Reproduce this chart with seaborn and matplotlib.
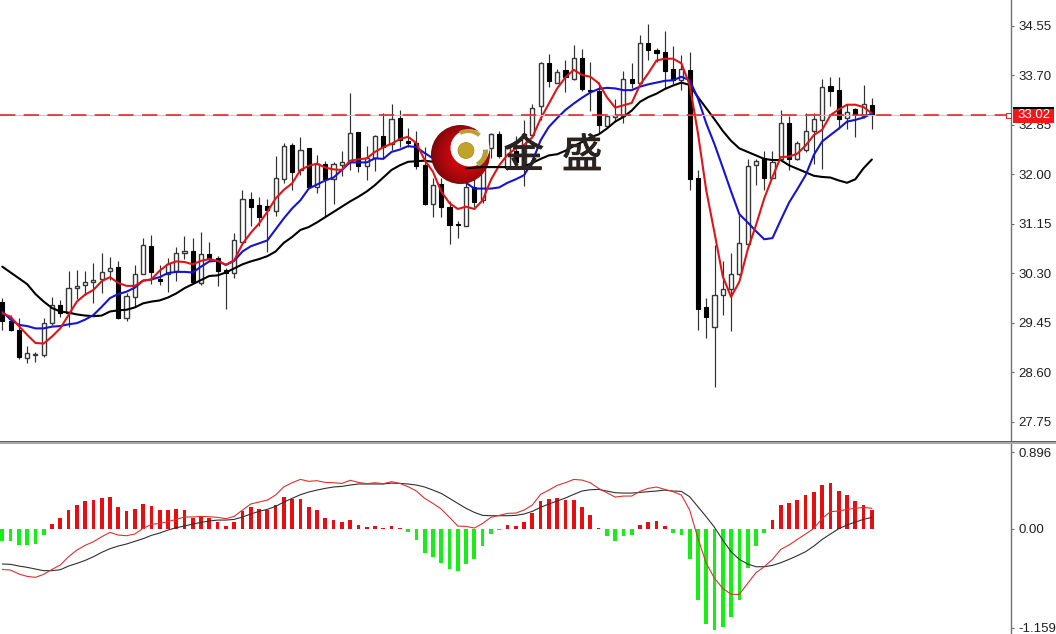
import numpy as np
import pandas as pd
import matplotlib
matplotlib.use('Agg')
import matplotlib.pyplot as plt
import matplotlib.patheffects as pe
from matplotlib.patches import Circle, Rectangle, Ellipse, Wedge
from matplotlib.transforms import Affine2D
import seaborn as sns

# candles
opens = [29.81,29.48,29.32,28.85,28.89,28.89,29.44,29.76,29.61,30.04,30.09,30.14,30.19,30.33,30.40,29.53,29.89,30.29,30.77,30.19,
         30.29,30.34,30.64,30.68,30.13,30.62,30.55,30.36,30.30,30.84,31.58,31.46,31.45,31.37,31.92,32.49,32.07,32.44,31.78,32.18,
         31.91,32.16,32.21,32.72,32.13,32.28,32.66,32.52,32.96,32.57,32.53,32.15,31.48,31.83,31.43,31.14,31.11,31.78,31.55,32.45,
         32.68,32.10,32.40,32.18,32.67,33.16,33.91,33.57,33.79,33.64,33.99,33.45,33.43,32.83,32.98,32.99,33.63,33.56,34.25,34.13,
         34.09,33.80,33.62,33.79,31.94,29.71,29.38,29.92,30.02,30.29,30.80,32.15,32.28,31.94,32.25,32.88,32.25,32.41,32.74,32.92,
         33.52,33.45,32.96,33.11,33.00,33.18]
highs = [29.88,29.58,29.52,29.04,28.95,29.52,29.89,29.84,30.33,30.36,30.33,30.47,30.64,30.57,30.50,29.95,30.43,30.90,30.95,30.44,
         30.55,30.74,30.94,30.91,31.00,30.83,30.60,30.38,30.98,31.73,31.70,31.60,31.58,32.31,32.53,32.53,32.63,32.44,32.32,32.23,
         32.21,32.40,33.39,32.73,32.48,32.67,33.05,33.20,33.10,32.79,32.74,32.47,31.93,31.93,31.53,31.19,31.87,32.07,32.53,32.71,
         32.74,32.50,32.65,32.93,33.20,33.93,34.06,33.81,33.95,34.21,34.14,33.92,33.58,33.03,33.28,33.77,33.91,34.39,34.57,34.16,
         34.46,34.19,34.04,34.10,32.07,29.87,30.79,30.51,30.65,31.30,32.25,32.25,32.40,32.40,33.10,33.00,32.57,33.04,33.04,33.64,
         33.67,33.67,33.21,33.13,33.53,33.31]
lows = [29.33,29.30,28.83,28.76,28.78,28.86,29.41,29.55,29.38,29.85,29.92,29.79,29.95,30.18,29.51,29.48,29.71,30.28,30.12,30.09,
        29.97,30.17,30.54,30.12,30.09,30.50,30.08,29.69,30.22,30.81,31.11,31.10,30.67,31.28,31.85,31.73,31.98,31.77,31.67,31.27,
        31.49,31.97,32.07,32.04,31.89,32.06,32.27,32.41,32.46,32.47,32.08,31.46,31.27,31.26,30.80,30.90,31.11,31.44,31.50,32.27,
        32.27,32.07,32.10,31.79,32.64,32.93,33.50,33.56,33.40,33.61,33.43,33.09,32.69,32.81,32.90,32.87,33.47,33.55,33.95,33.93,
        33.47,33.54,33.44,31.72,29.33,29.18,28.34,29.58,29.31,30.27,30.75,31.81,31.73,31.93,32.24,32.07,32.24,32.38,32.18,32.08,
        33.16,32.78,32.77,32.64,32.96,32.78]
closes = [29.47,29.33,28.86,28.92,28.90,29.45,29.75,29.61,30.05,30.08,30.15,30.18,30.31,30.38,29.53,29.91,30.28,30.79,30.31,30.17,
          30.45,30.64,30.68,30.14,30.62,30.55,30.34,30.30,30.86,31.58,31.44,31.26,31.39,31.93,32.48,32.04,32.42,31.78,32.18,31.91,
          32.18,32.21,32.71,32.13,32.27,32.66,32.47,32.94,32.58,32.54,32.14,31.48,31.81,31.43,31.12,31.12,31.77,31.52,32.47,32.68,
          32.31,32.47,32.21,32.69,33.14,33.90,33.60,33.75,33.66,33.99,33.46,33.42,32.84,32.99,33.01,33.63,33.57,34.25,34.13,34.08,
          33.77,33.62,33.80,31.91,29.69,29.55,29.93,30.02,30.29,30.82,32.14,32.22,31.93,32.20,32.88,32.25,32.53,32.74,32.94,33.50,
          33.43,32.94,33.06,33.01,33.20,33.02]

# moving averages
ma_black = [30.41,30.31,30.21,30.11,29.94,29.81,29.70,29.64,29.62,29.59,29.57,29.56,29.57,29.64,29.66,29.67,29.71,29.78,29.81,29.83,
            29.88,29.95,30.04,30.11,30.18,30.25,30.26,30.31,30.38,30.45,30.50,30.54,30.59,30.67,30.82,30.92,31.04,31.09,31.17,31.26,
            31.35,31.44,31.53,31.61,31.70,31.81,31.94,32.07,32.15,32.21,32.22,32.23,32.21,32.18,32.15,32.13,32.10,32.11,32.12,32.12,
            32.12,32.12,32.11,32.13,32.19,32.26,32.32,32.34,32.40,32.48,32.55,32.63,32.68,32.78,32.90,32.98,33.09,33.24,33.32,33.38,
            33.46,33.52,33.57,33.53,33.32,33.13,32.94,32.74,32.57,32.44,32.38,32.32,32.26,32.24,32.24,32.15,32.09,32.03,31.97,31.95,
            31.94,31.89,31.85,31.91,32.10,32.25]
ma_blue = [29.64,29.50,29.41,29.39,29.35,29.35,29.38,29.39,29.42,29.44,29.50,29.58,29.72,29.87,29.94,29.98,30.05,30.17,30.19,30.23,
           30.30,30.32,30.32,30.31,30.41,30.50,30.51,30.44,30.51,30.67,30.76,30.81,30.86,31.05,31.24,31.41,31.55,31.75,31.82,31.89,
           31.94,32.07,32.20,32.20,32.20,32.27,32.26,32.38,32.42,32.48,32.46,32.36,32.27,32.15,32.04,31.94,31.85,31.75,31.75,31.75,
           31.77,31.85,31.91,31.98,32.21,32.58,32.81,32.96,33.10,33.21,33.31,33.40,33.46,33.48,33.47,33.44,33.44,33.50,33.54,33.57,
           33.60,33.61,33.67,33.61,33.30,32.87,32.51,32.11,31.70,31.31,31.17,31.02,30.88,30.90,31.21,31.51,31.74,31.98,32.33,32.56,
           32.67,32.78,32.90,32.93,32.97,33.04]
ma_red = [29.61,29.55,29.39,29.24,29.10,29.09,29.21,29.35,29.58,29.81,29.93,30.01,30.16,30.23,30.13,30.08,30.08,30.17,30.19,30.34,
          30.45,30.50,30.49,30.45,30.51,30.54,30.51,30.44,30.52,30.80,30.99,31.15,31.35,31.58,31.73,31.84,32.07,32.14,32.18,32.11,
          32.08,32.07,32.23,32.25,32.27,32.38,32.46,32.52,32.60,32.64,32.53,32.24,32.04,31.70,31.50,31.40,31.44,31.40,31.55,31.90,
          32.15,32.33,32.44,32.50,32.63,32.95,33.21,33.47,33.66,33.79,33.70,33.67,33.56,33.32,33.14,33.18,33.22,33.53,33.73,33.95,
          33.98,33.98,33.90,33.53,32.70,31.72,30.99,30.24,29.89,30.15,30.70,31.12,31.58,31.95,32.29,32.30,32.35,32.49,32.67,32.76,
          33.01,33.11,33.19,33.19,33.15,33.04]

# macd panel
macd_hist = [-.14,-.14,-.19,-.19,-.18,-.07,.06,.12,.22,.28,.33,.34,.36,.37,.25,.21,.23,.29,.26,.22,
             .22,.23,.22,.13,.15,.13,.08,.035,.08,.21,.25,.23,.22,.28,.37,.35,.35,.25,.22,.13,
             .105,.08,.105,.047,.015,.03,.012,.035,.012,-.04,-.13,-.28,-.33,-.40,-.47,-.50,-.41,-.36,-.20,-.06,
             -.015,.047,.03,.08,.18,.32,.35,.36,.34,.34,.25,.16,.012,-.08,-.14,-.09,-.07,.047,.08,.09,
             .035,-.05,-.07,-.35,-.83,-1.11,-1.18,-1.15,-1.03,-.83,-.46,-.20,-.05,.105,.28,.30,.34,.39,.43,.51,
             .54,.44,.39,.33,.28,.22]
macd_signal = [-.413,-.417,-.437,-.452,-.472,-.491,-.491,-.480,-.437,-.406,-.371,-.328,-.277,-.234,-.203,-.179,-.148,-.117,-.078,-.051,
               -.016,.012,.031,.055,.074,.090,.101,.101,.109,.137,.172,.203,.226,.261,.312,.355,.398,.429,.452,.472,
               .488,.495,.511,.523,.523,.523,.523,.534,.530,.523,.511,.488,.452,.413,.355,.296,.238,.191,.156,.152,
               .152,.152,.156,.172,.203,.250,.289,.324,.359,.402,.441,.456,.460,.441,.421,.417,.417,.425,.433,.441,
               .452,.441,.437,.374,.257,.140,.016,-.133,-.269,-.359,-.413,-.445,-.445,-.429,-.398,-.359,-.316,-.269,-.203,-.125,
               -.062,0,.043,.078,.109,.133]
macd_line = [-.476,-.484,-.530,-.558,-.569,-.534,-.476,-.425,-.328,-.250,-.195,-.152,-.094,-.043,-.074,-.082,-.062,.004,.051,.062,
             .082,.109,.137,.137,.144,.140,.133,.117,.144,.218,.289,.312,.335,.394,.491,.538,.577,.554,.562,.542,
             .538,.530,.566,.542,.527,.538,.527,.550,.530,.491,.441,.355,.296,.230,.133,.031,.027,.008,.062,.133,
             .156,.179,.183,.218,.277,.402,.452,.507,.538,.577,.569,.538,.472,.421,.370,.382,.382,.437,.472,.488,
             .460,.433,.394,.218,-.113,-.406,-.581,-.698,-.768,-.768,-.640,-.515,-.445,-.359,-.242,-.191,-.125,-.062,.004,.121,
             .199,.207,.226,.238,.250,.238]

price_ticks = [34.55, 33.70, 32.85, 32.00, 31.15, 30.30, 29.45, 28.60, 27.75]
price_labels = ['34.55', '33.70', '32.85', '32.00', '31.15', '30.30', '29.45', '28.60', '27.75']
macd_ticks = [0.896, 0.0, -1.159]
macd_labels = ['0.896', '0.00', '-1.159']
last_price = 33.02

sns.set_theme(style='white')
plt.rcParams['font.family'] = ['Liberation Sans', 'DejaVu Sans']

W, H = 1056, 634
fig = plt.figure(figsize=(W / 100, H / 100), dpi=100, facecolor='white')
# pixels from top left, used for logo and price box
px = Affine2D().scale(1, -1).translate(0, H)

ax1 = fig.add_axes([0, 1 - 441.5 / H, 1011 / W, 441.5 / H])
ax2 = fig.add_axes([0, 0, 1011 / W, 1 - 443.5 / H])

x = np.arange(len(closes))
df = pd.DataFrame({'x': x, 'o': opens, 'h': highs, 'l': lows, 'c': closes})
up = df[df.c >= df.o]
down = df[df.c < df.o]

# candles
ax1.vlines(df.x, df.l, df.h, color='#303030', lw=0.85, zorder=2)
ax1.bar(up.x, (up.c - up.o).clip(lower=0.02), bottom=up.o, width=0.5, facecolor='white', edgecolor='#383838', lw=1.0, zorder=3)
ax1.bar(down.x, (down.o - down.c).clip(lower=0.02), bottom=down.c, width=0.5, facecolor='black', edgecolor='black', lw=0.8, zorder=3)

sns.lineplot(x=x, y=ma_black, color='black', linewidth=1.5, ax=ax1, zorder=4)
sns.lineplot(x=x, y=ma_blue, color='#1414d2', linewidth=1.5, ax=ax1, zorder=4)
sns.lineplot(x=x, y=ma_red, color='#e01414', linewidth=1.5, ax=ax1, zorder=4)

# current price line
ax1.axhline(last_price, color='#c8c8c8', lw=0.8, zorder=4)
ax1.axhline(last_price, color='#e01c1c', lw=1.1, dashes=(10, 5.5), zorder=4.1)
ax1.plot([121.45], [last_price], marker='s', ms=3.6, mfc='white', mec='#e01c1c', mew=0.7, zorder=5, clip_on=False)

# logo
r = np.linspace(-1, 1, 120)
gx, gy = np.meshgrid(r, r)
dist = np.clip(np.hypot(gx - 0.15, gy - 0.0), 0, 1.2) / 1.2
grad = np.zeros((120, 120, 3))
grad[..., 0] = 0.85 - 0.42 * dist ** 2
grad[..., 1] = 0.03
grad[..., 2] = 0.05
im = ax1.imshow(grad, extent=(431, 490, 184, 125), transform=px, zorder=5, aspect='auto', interpolation='bilinear')
im.set_clip_path(Circle((460.5, 154.5), 29.5, transform=px))
ax1.add_patch(Ellipse((470, 148), 39, 37, facecolor='white', edgecolor='none', transform=px, zorder=5.1, clip_on=False))
ax1.add_patch(Wedge((468, 148), 19, -118, -48, width=4, facecolor='#b8a030', edgecolor='none', transform=px, zorder=5.2))
ax1.add_patch(Wedge((470, 151), 18, -5, 62, width=5, facecolor='#b8a030', edgecolor='none', transform=px, zorder=5.2))
ax1.add_patch(Circle((466, 150.5), 8, facecolor='#c2a32a', edgecolor='#a88a1c', lw=0.5, transform=px, zorder=5.3))
sns.lineplot(x=x[56:63], y=ma_black[56:63], color='black', linewidth=1.5, ax=ax1, zorder=6)

fig.text(553, 156, '金  盛', transform=px, ha='center', va='center', fontsize=29, color='#2b2320',
         family=['Noto Sans CJK SC', 'DejaVu Sans'], zorder=3,
         path_effects=[pe.withStroke(linewidth=0.7, foreground='#2b2320')])

ax1.set_xlim(-0.278, 121.8)
ax1.set_ylim(27.408, 34.988)
ax1.set_aspect('auto')

# macd
sns.barplot(x=x, y=macd_hist, hue=np.where(np.array(macd_hist) >= 0, 'pos', 'neg'), palette={'pos': '#e60f0f', 'neg': '#17ee17'},
            native_scale=True, dodge=False, width=0.45, saturation=1, linewidth=0, legend=False, ax=ax2, zorder=2)
sns.lineplot(x=x, y=macd_signal, color='#303030', linewidth=0.8, ax=ax2, zorder=3)
sns.lineplot(x=x, y=macd_line, color='#e03030', linewidth=0.8, ax=ax2, zorder=3)
ax2.set_xlim(-0.278, 121.8)
ax2.set_ylim(-1.232, 0.997)

for ax, ticks, labels in [(ax1, price_ticks, price_labels), (ax2, macd_ticks, macd_labels)]:
    ax.set_xticks([])
    ax.set_xlabel('')
    ax.set_ylabel('')
    ax.yaxis.tick_right()
    ax.set_yticks(ticks)
    ax.set_yticklabels(labels)
    ax.tick_params(axis='y', length=2.5, width=0.7, color='#606060', pad=2.6, labelsize=9.5, labelcolor='#202020', right=True)
    ax.grid(False)
    for side in ['top', 'left']:
        ax.spines[side].set_visible(False)
    ax.spines['right'].set_color('#707070')
    ax.spines['right'].set_linewidth(1)
    ax.spines['bottom'].set_visible(False)

# double rule between the panels
fig.add_artist(Rectangle((0, 441.2), W, 1.1, facecolor='#606060', edgecolor='none', transform=px))
fig.add_artist(Rectangle((0, 442.3), W, 1.4, facecolor='#a8a8a8', edgecolor='none', transform=px))

# price box on the axis
fig.add_artist(Rectangle((1013, 107), 41, 15.5, facecolor='#f01818', edgecolor='none', transform=px, zorder=5))
fig.add_artist(Rectangle((1013, 107), 41, 2, facecolor='black', edgecolor='none', transform=px, zorder=6))
fig.text(1034, 115.5, f'{last_price:.2f}', transform=px, ha='center', va='center', fontsize=9.5, color='white', zorder=7)

fig.savefig('out.png', dpi=100)
